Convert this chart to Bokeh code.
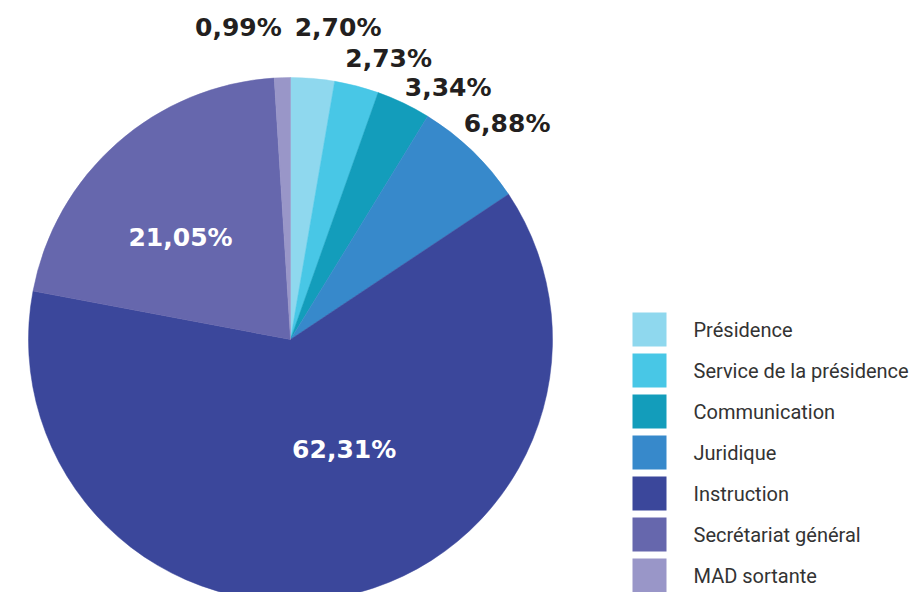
import math
from bokeh.plotting import figure
from bokeh.models import Range1d, ColumnDataSource
from bokeh.core.properties import value
from bokeh.embed import file_html
from bokeh.resources import INLINE

# ---- data ----
categories = ["Présidence", "Service de la présidence", "Communication",
              "Juridique", "Instruction", "Secrétariat général", "MAD sortante"]
shares = [2.70, 2.73, 3.34, 6.88, 62.31, 21.05, 0.99]
labels = ["2,70%", "2,73%", "3,34%", "6,88%", "62,31%", "21,05%", "0,99%"]
colors = ["#8FD8EE", "#48C7E6", "#139DBB", "#3789CB", "#3B479B", "#6667AD", "#9996C8"]

# ---- layout (pixel-like data space: x = page x, y = 600 - page y) ----
W, H = 911, 592
cx, cy, R = 290, 261, 262
label_radius = [316, 298, 297, 306, 122, 150, 316]
label_nudge_deg = [-3.8, -4.6, -6.5, -1.1, 14.6, 5.7, 7.7]
label_color = ["#231F20"] * 4 + ["white", "white"] + ["#231F20"]

total = sum(shares)
starts, ends, mids = [], [], []
cum = 0.0
for s in shares:
    a0 = math.pi / 2 - 2 * math.pi * cum / total
    cum += s
    a1 = math.pi / 2 - 2 * math.pi * cum / total
    starts.append(a0)
    ends.append(a1)
    mids.append((a0 + a1) / 2)

p = figure(width=W, height=H, output_backend="svg", toolbar_location=None,
           x_range=Range1d(0, W), y_range=Range1d(600 - H, 600),
           x_axis_location=None, y_axis_location=None, min_border=0,
           background_fill_color="white", border_fill_color="white")
p.outline_line_color = None
p.grid.visible = False

src = ColumnDataSource(dict(start=starts, end=ends, color=colors,
                            x=[cx] * len(shares), y=[cy] * len(shares)))
p.wedge(x="x", y="y", radius=R, start_angle="start", end_angle="end",
        direction="clock", fill_color="color", line_color="color",
        line_width=0.5, source=src)

lx, ly = [], []
for m, r, n in zip(mids, label_radius, label_nudge_deg):
    a = m + math.radians(n)
    lx.append(cx + r * math.cos(a))
    ly.append(cy + r * math.sin(a))
p.text(x=lx, y=ly, text=labels, text_color=label_color,
       text_font=value("DejaVu Sans"), text_font_style="bold",
       text_font_size="25px", text_align="center", text_baseline="middle")

# ---- legend ----
leg_x, leg_top, leg_step, sq = 649, 600 - 329, 41, 34
leg_y = [leg_top - i * leg_step for i in range(len(categories))]
p.rect(x=[leg_x] * len(categories), y=leg_y, width=sq, height=sq,
       fill_color=colors, line_color=None)
p.text(x=[693] * len(categories), y=leg_y, text=categories,
       text_color="#333333", text_font=value("Roboto"),
       text_font_size="20px", text_align="left", text_baseline="middle")

open("out.html", "w").write(file_html(p, INLINE))
